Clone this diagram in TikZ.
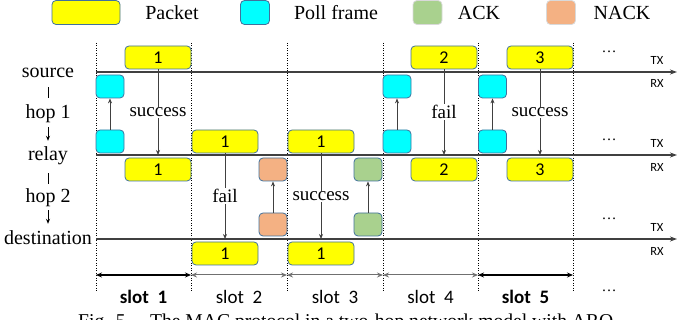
\documentclass[tikz,border=0pt]{standalone}
\usepackage{fontspec}
\setmainfont{Liberation Serif}
\newfontfamily\calfont{Carlito}
\usetikzlibrary{arrows.meta}
\definecolor{bord}{HTML}{41719C}
\definecolor{pktc}{HTML}{FFFF00}
\definecolor{pollc}{HTML}{00FFFF}
\definecolor{ackc}{HTML}{A9D18E}
\definecolor{nackc}{HTML}{F4B183}
\definecolor{lnc}{HTML}{404040}
\definecolor{slotg}{HTML}{707070}
\begin{document}
\begin{tikzpicture}[x=1pt,y=-1pt,
 box/.style={draw=bord,line width=0.8pt,rounded corners=4pt,inner sep=0pt,minimum height=23pt,font=\calfont\fontsize{18}{18}\selectfont},
 pkt/.style={box,fill=pktc,minimum width=66pt},
 poll/.style={box,fill=pollc,minimum width=28pt},
 ackb/.style={box,fill=ackc,minimum width=28pt},
 nackb/.style={box,fill=nackc,minimum width=28pt},
 arr/.style={draw=lnc,line width=0.8pt,-{Stealth[length=5pt,width=4pt]}},
 tline/.style={draw=lnc,line width=1.1pt,-{Stealth[length=7pt,width=5pt]}},
 dotl/.style={draw=black,line width=0.5pt,dotted},
 lbl/.style={font=\fontsize{19}{19}\selectfont,inner sep=1pt,fill=white},
 side/.style={font=\fontsize{20}{20}\selectfont,inner sep=0pt,text height=14pt,text depth=4pt},
 legt/.style={font=\fontsize{20}{20}\selectfont,inner sep=0pt},
 trx/.style={font=\calfont\fontsize{12.5}{12.5}\selectfont,inner sep=0pt},
 dotsn/.style={font=\fontsize{15}{15}\selectfont,inner sep=0pt,anchor=base},
 slotk/.style={draw=black,line width=1.2pt,{Stealth[length=6pt,width=5pt]}-{Stealth[length=6pt,width=5pt]}},
 slotn/.style={draw=slotg,line width=1pt,{Stealth[length=6pt,width=5pt]}-{Stealth[length=6pt,width=5pt]}},
 slotlab/.style={font=\calfont\fontsize{19}{19}\selectfont,inner sep=0pt},
 sidearr/.style={draw=black,line width=0.8pt,-{Stealth[length=5pt,width=4pt]}},
 sideln/.style={draw=black,line width=0.8pt}
]
\useasboundingbox (0,0) rectangle (678,320);
\clip (0,0) rectangle (678,320);

% legend
\node[box,fill=pktc,minimum width=68pt,minimum height=24pt] (lp) at (86,12.5) {};
\node[legt] (lpt) at (172,13) {Packet};
\node[box,fill=pollc,minimum width=29pt,minimum height=24pt] (lq) at (255,12.5) {};
\node[legt] (lqt) at (336,13) {Poll frame};
\node[box,draw=gray!30,fill=ackc,minimum width=29pt,minimum height=24pt] (la) at (427.5,12.5) {};
\node[legt] (lat) at (479,13) {ACK};
\node[box,draw=gray!30,fill=nackc,minimum width=29pt,minimum height=24pt] (ln) at (561,12.5) {};
\node[legt] (lnt) at (622,13) {NACK};

% dotted slot boundaries
\foreach \x in {96,191,287,383,478,573} \draw[dotl] (\x,43) -- (\x,292);

% time lines
\coordinate (s0) at (96,72); \coordinate (s9) at (677,72);
\coordinate (r0) at (96,155); \coordinate (r9) at (677,155);
\coordinate (d0) at (96,239); \coordinate (d9) at (677,239);
\draw[tline] (s0) -- (s9);
\draw[tline] (r0) -- (r9);
\draw[tline] (d0) -- (d9);

% side labels
\node[side] (src) at (48,73) {source};
\node[side] (hop1) at (48,114) {hop 1};
\node[side] (rel) at (48,156) {relay};
\node[side] (hop2) at (48,198) {hop 2};
\node[side] (dst) at (48,240) {destination};
\draw[sideln,shorten <=5pt,shorten >=7pt] (src) -- (hop1);
\draw[sidearr,shorten <=4pt,shorten >=6pt] (hop1) -- (rel);
\draw[sideln,shorten <=8pt,shorten >=5pt] (rel) -- (hop2);
\draw[sidearr,shorten <=3pt,shorten >=7pt] (hop2) -- (dst);

% frames
\node[pkt] (sp1) at (158,57.5) {1};
\node[poll] (sq1) at (110,86.5) {};
\node[poll] (rq1) at (110,141.5) {};
\node[pkt] (rr1) at (158,169.5) {1};
\node[pkt] (rt2) at (225,141.5) {1};
\node[nackb] (rn2) at (273,169.5) {};
\node[nackb] (dn2) at (273,224.5) {};
\node[pkt] (dr2) at (225,253.5) {1};
\node[pkt] (rt3) at (321,141.5) {1};
\node[ackb] (ra3) at (368,169.5) {};
\node[ackb] (da3) at (368,224.5) {};
\node[pkt] (dr3) at (321,253.5) {1};
\node[poll] (sq4) at (397,86.5) {};
\node[poll] (rq4) at (397,141.5) {};
\node[pkt] (sp4) at (444,57.5) {2};
\node[pkt] (rr4) at (444,169.5) {2};
\node[poll] (sq5) at (492.5,86.5) {};
\node[poll] (rq5) at (492.5,141.5) {};
\node[pkt] (sp5) at (540,57.5) {3};
\node[pkt] (rr5) at (540,169.5) {3};

% transmissions
\draw[arr] (rq1) -- (sq1);
\draw[arr] (sp1) -- node[lbl] (l1) {success} (sp1 |- r0);
\draw[arr] (rt2) -- node[lbl] (l2) {fail} (rt2 |- d0);
\draw[arr] (dn2) -- (rn2);
\draw[arr] (rt3) -- node[lbl] (l3) {success} (rt3 |- d0);
\draw[arr] (da3) -- (ra3);
\draw[arr] (rq4) -- (sq4);
\draw[arr] (sp4) -- node[lbl] (l4) {fail} (sp4 |- r0);
\draw[arr] (rq5) -- (sq5);
\draw[arr] (sp5) -- node[lbl] (l5) {success} (sp5 |- r0);

% TX / RX
\node[trx] (tx1) at (657,60) {TX};
\node[trx] (rx1) at (657,83) {RX};
\node[trx] (tx2) at (657,143) {TX};
\node[trx] (rx2) at (657,167) {RX};
\node[trx] (tx3) at (657,227) {TX};
\node[trx] (rx3) at (657,251) {RX};

% continuation dots
\node[dotsn] (e1) at (609,53) {\ldots};
\node[dotsn] (e2) at (609,141) {\ldots};
\node[dotsn] (e3) at (609,220) {\ldots};
\node[dotsn] (e4) at (609,292) {\ldots};

% slots
\coordinate (b0) at (96,275); \coordinate (b1) at (191,275);
\coordinate (b2) at (287,275); \coordinate (b3) at (383,275);
\coordinate (b4) at (478,275); \coordinate (b5) at (573,275);
\draw[slotk] (b0) -- (b1);
\draw[slotn] (b1) -- (b2);
\draw[slotn] (b2) -- (b3);
\draw[slotn] (b3) -- (b4);
\draw[slotk] (b4) -- (b5);
\node[slotlab,font=\calfont\bfseries\fontsize{19}{19}\selectfont] (t1) at (143.5,297) {slot\ \ 1};
\node[slotlab] (t2) at (239,297) {slot\ \ 2};
\node[slotlab] (t3) at (335,297) {slot\ \ 3};
\node[slotlab] (t4) at (430.5,297) {slot\ \ 4};
\node[slotlab,font=\calfont\bfseries\fontsize{19}{19}\selectfont] (t5) at (525.5,297) {slot\ \ 5};

% caption (cut off at the bottom edge, as in the reference)
\node[anchor=base west,inner sep=0pt,font=\fontsize{19.6}{19.6}\selectfont] (cap) at (78,328) {Fig. 5.\quad The MAC protocol in a two-hop network model with ARQ};
\end{tikzpicture}
\end{document}
